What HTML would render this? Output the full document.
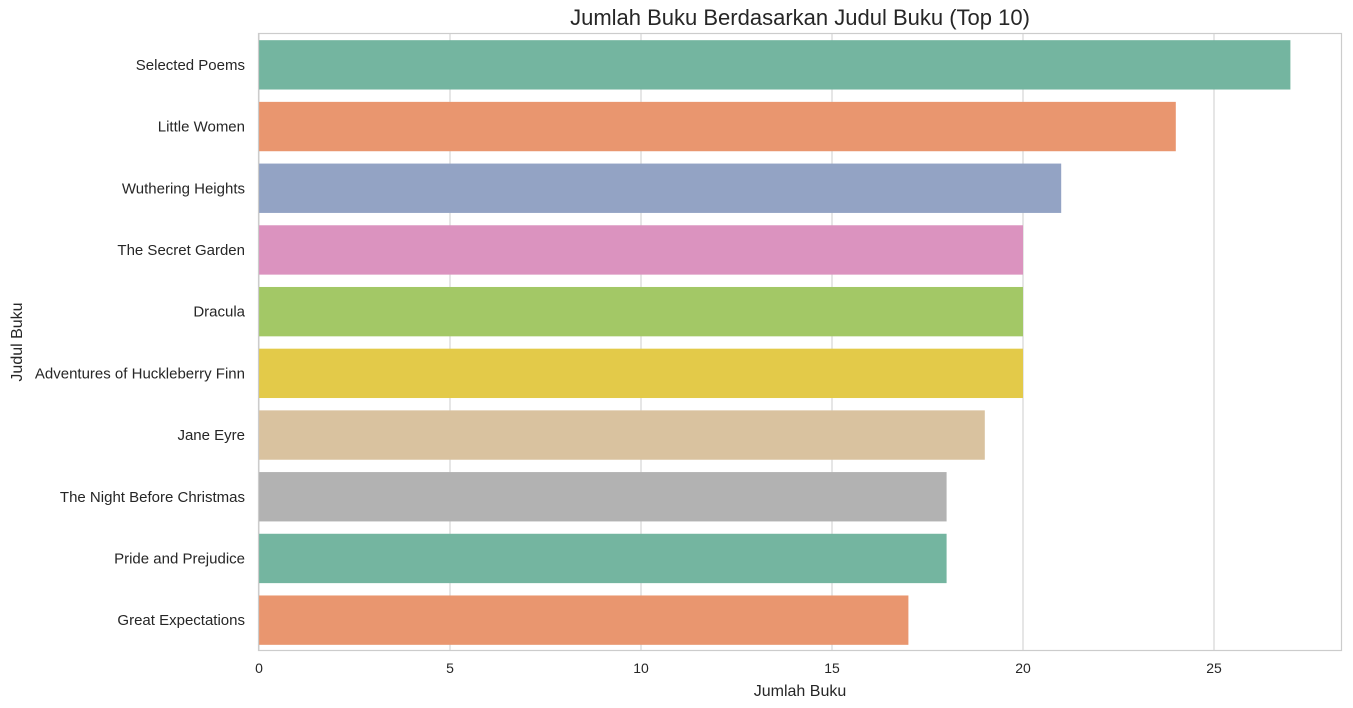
<!DOCTYPE html>
<html><head><meta charset="utf-8"><style>
body{margin:0;background:#fff;}
svg{display:block;font-family:"Liberation Sans","DejaVu Sans",sans-serif;}
</style></head><body>
<svg id="chart" width="1353" height="708">
<text x="800" y="25" font-size="22" text-anchor="middle" fill="#262626">Jumlah Buku Berdasarkan Judul Buku (Top 10)</text>
<g id="grid"></g><g id="bars"></g><g id="xticks"></g><g id="yticks"></g>
<rect x="258.5" y="33.5" width="1083" height="617" fill="none" stroke="#cccccc" stroke-width="1.2"/>
<text x="800" y="696" font-size="16" text-anchor="middle" fill="#262626">Jumlah Buku</text>
<text x="0" y="0" font-size="16" text-anchor="middle" fill="#262626" transform="translate(22,342) rotate(-90)">Judul Buku</text>
</svg>
<script>
const categories=["Selected Poems","Little Women","Wuthering Heights","The Secret Garden","Dracula","Adventures of Huckleberry Finn","Jane Eyre","The Night Before Christmas","Pride and Prejudice","Great Expectations"];
const values=[27,24,21,20,20,20,19,18,18,17];
const xTicks=[0,5,10,15,20,25];
const colors=["#74b5a0","#e9966f","#93a3c4","#db93bf","#a3c866","#e3ca49","#d9c29f","#b2b2b2","#74b5a0","#e9966f"];
const NS="http://www.w3.org/2000/svg";
const X0=259,PX=38.2,TOP=34,SLOT=61.7,BH=0.8*SLOT;
const xs=v=>X0+v*PX;
const yc=i=>TOP+(i+0.5)*SLOT;
function mk(t,a,p){const e=document.createElementNS(NS,t);for(const k in a)e.setAttribute(k,a[k]);p.appendChild(e);return e;}
const g=document.getElementById('grid'),b=document.getElementById('bars'),xt=document.getElementById('xticks'),yt=document.getElementById('yticks');
xTicks.forEach(v=>{
 const l=mk('line',{x1:xs(v),x2:xs(v),y1:34,y2:650,stroke:'#d9d9d9','stroke-width':1.3},g);
 
 
 const t=mk('text',{x:xs(v),y:673,'font-size':14,'text-anchor':'middle',fill:'#262626'},xt);
 t.textContent=v;
 
 
});
categories.forEach((c,i)=>{
 const r=mk('rect',{x:xs(0),y:yc(i)-BH/2,width:xs(values[i])-xs(0),height:BH,fill:colors[i]},b);
 
 
 const t=mk('text',{x:245,y:yc(i)+5,'font-size':15,'text-anchor':'end',fill:'#262626'},yt);
 t.textContent=c;
 
 
});
</script>
</body></html>
